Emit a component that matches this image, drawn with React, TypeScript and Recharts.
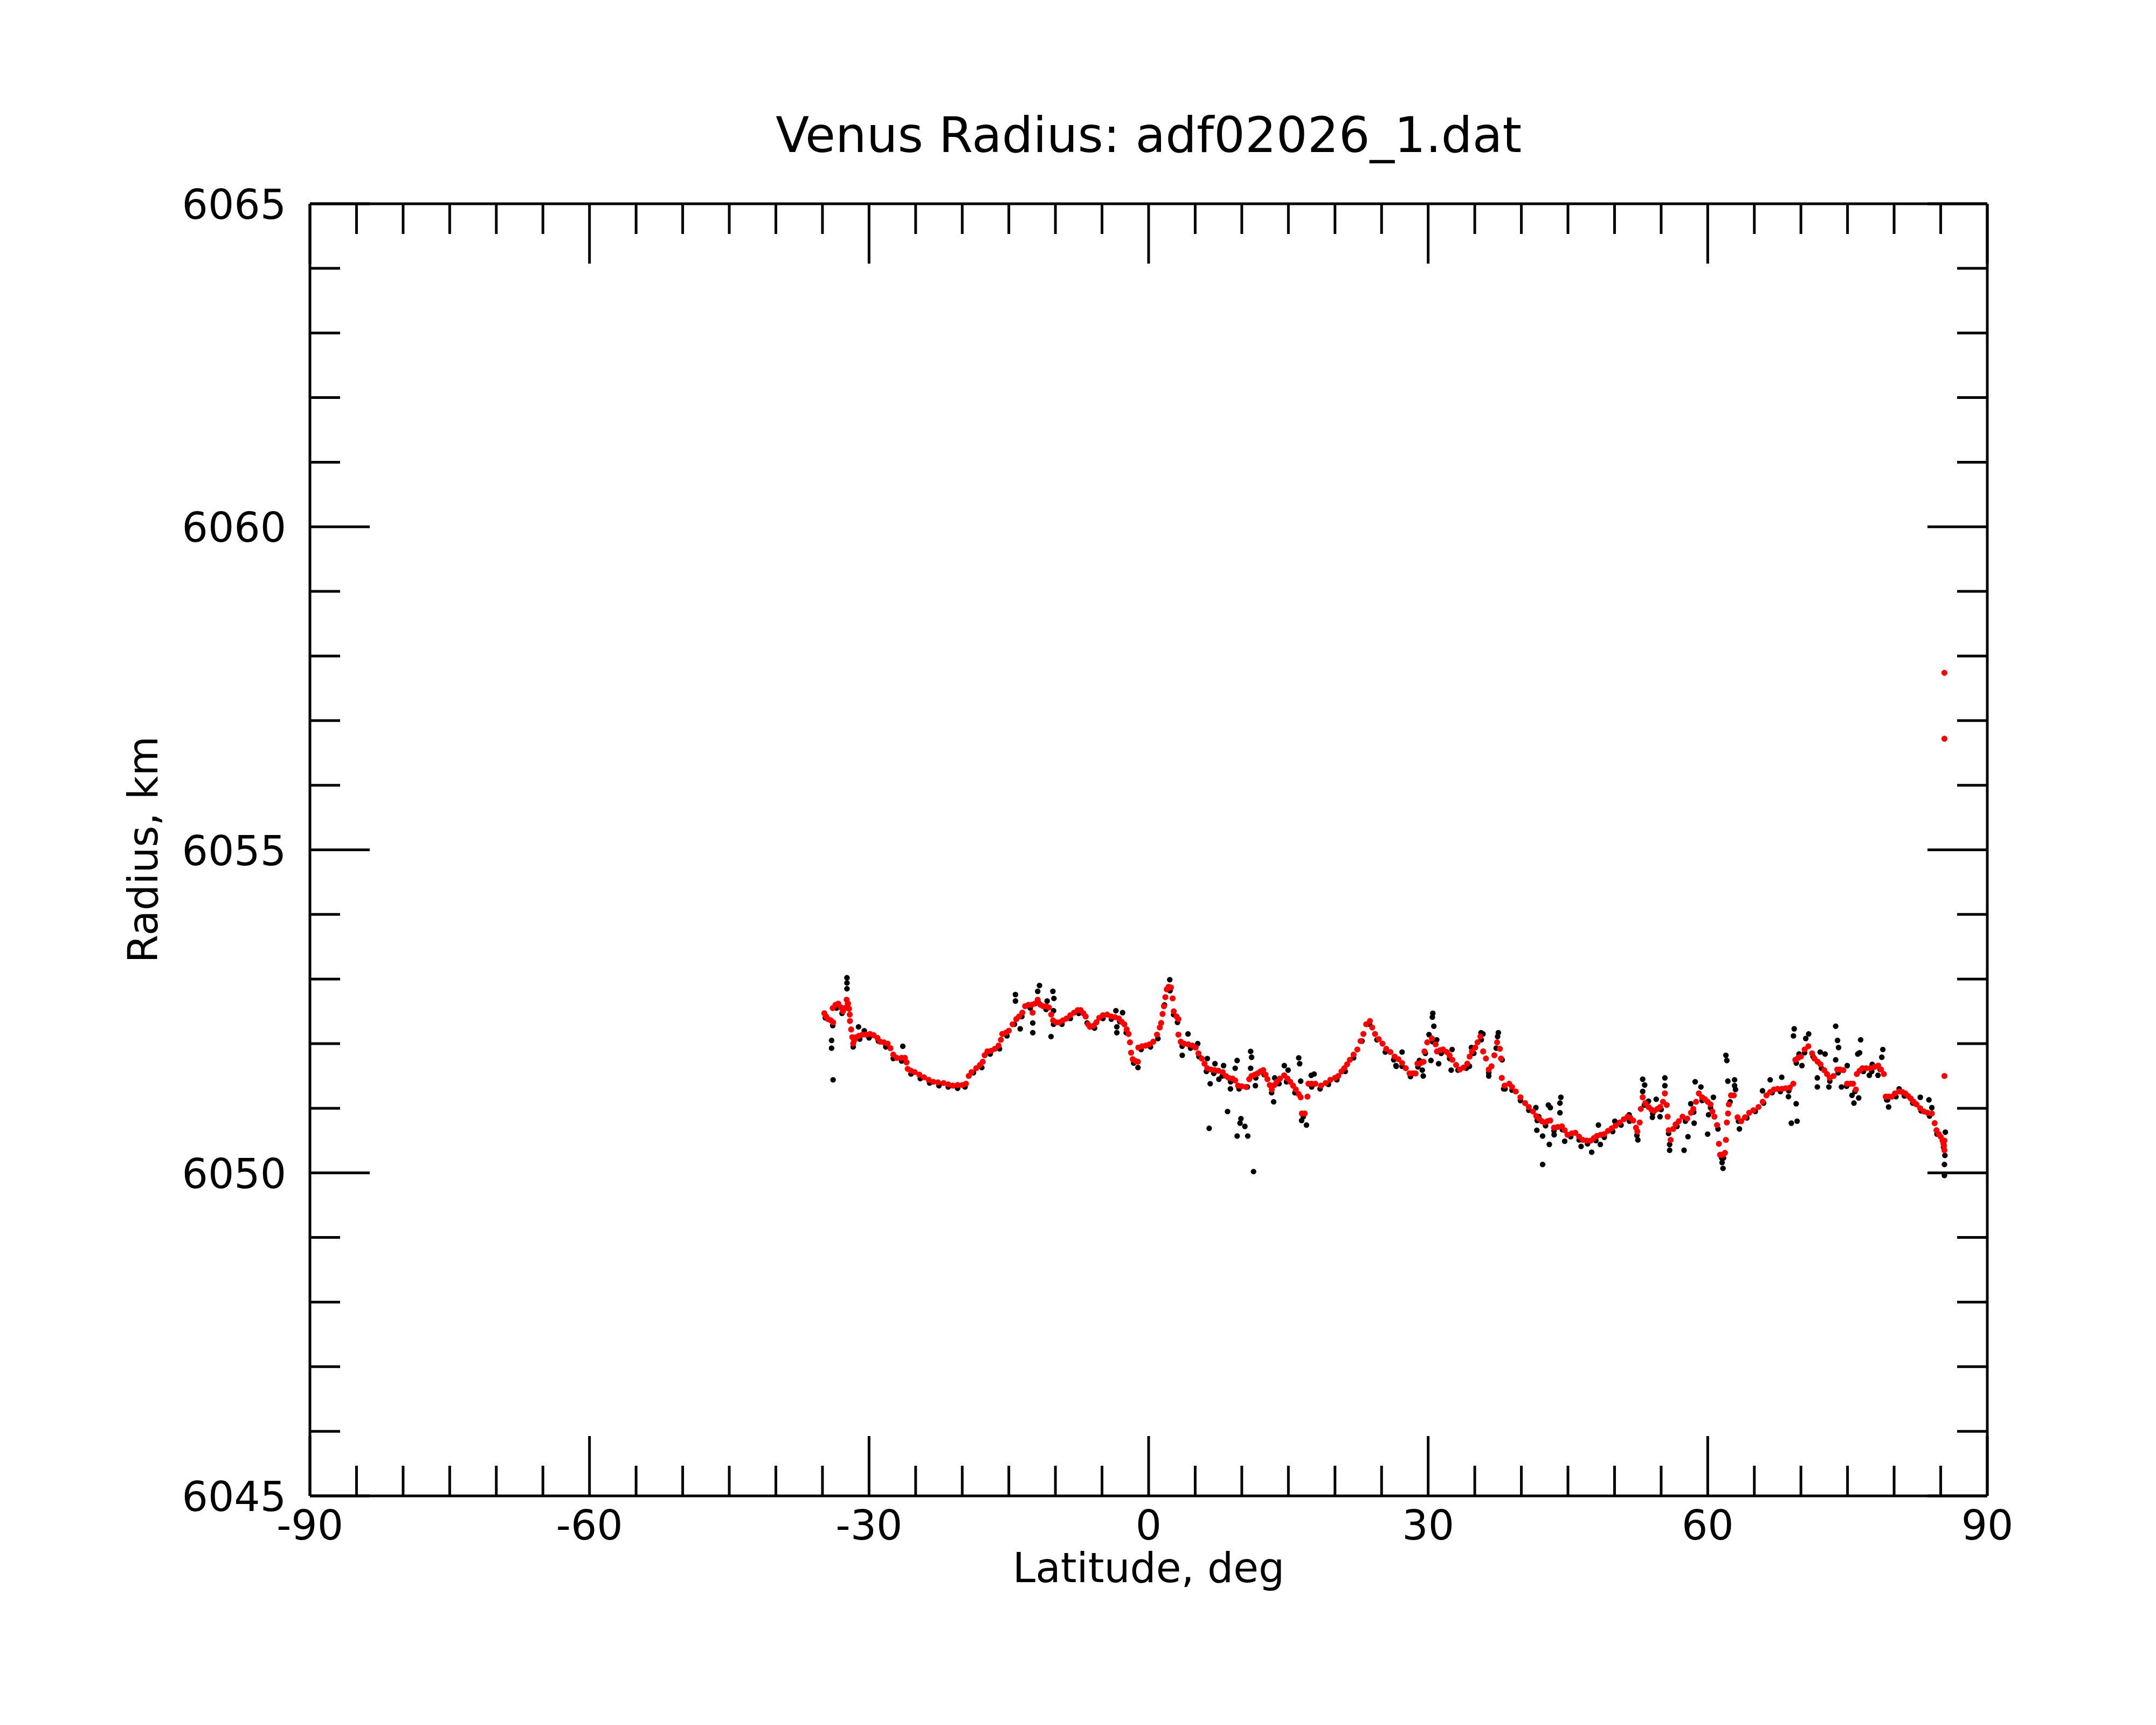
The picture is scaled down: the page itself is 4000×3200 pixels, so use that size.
import { Scatter, ScatterChart, XAxis, YAxis } from "recharts";

// latitude / radius pairs
// raw samples (black)
const rawTrack: [number, number][] = [
  [-34.7, 6052.4], [-33.9, 6052.28], [-33.5, 6052.55], [-32.9, 6052.47], [-32.3, 6052.62],
  [-31.7, 6051.95], [-31.0, 6052.07], [-30.0, 6052.09], [-29.0, 6052.04], [-28.2, 6051.95],
  [-27.4, 6051.77], [-26.5, 6051.73], [-25.5, 6051.53], [-24.5, 6051.46], [-23.5, 6051.39],
  [-22.5, 6051.35], [-21.5, 6051.33], [-20.5, 6051.31], [-19.7, 6051.33], [-18.8, 6051.55],
  [-17.9, 6051.63], [-17.0, 6051.84], [-16.0, 6051.92], [-15.2, 6052.12], [-14.4, 6052.3],
  [-13.6, 6052.42], [-12.7, 6052.55], [-11.8, 6052.63], [-11.0, 6052.53], [-10.2, 6052.3],
  [-9.3, 6052.3], [-8.4, 6052.39], [-7.5, 6052.47], [-6.6, 6052.32], [-5.8, 6052.24],
  [-4.9, 6052.39], [-4.0, 6052.38], [-3.1, 6052.34], [-2.4, 6052.17], [-1.6, 6051.7],
  [-0.8, 6051.91], [0.2, 6051.95], [1.0, 6052.08], [1.7, 6052.6], [2.3, 6052.82],
  [3.1, 6052.33], [3.6, 6051.96], [4.5, 6051.93], [5.4, 6051.8], [6.2, 6051.57],
  [7.0, 6051.54], [7.9, 6051.5], [8.8, 6051.41], [9.7, 6051.3], [10.6, 6051.33],
  [11.5, 6051.47], [12.4, 6051.52], [13.2, 6051.24], [14.0, 6051.38], [14.8, 6051.41],
  [15.7, 6051.24], [16.6, 6050.87], [17.5, 6051.33], [18.4, 6051.3], [19.3, 6051.37],
  [20.2, 6051.44], [21.1, 6051.57], [22.0, 6051.78], [22.9, 6052.04], [23.7, 6052.3],
  [24.5, 6052.06], [25.4, 6051.87], [26.3, 6051.75], [27.2, 6051.65], [28.1, 6051.49],
  [28.9, 6051.64], [29.7, 6051.85], [30.5, 6052.03], [31.4, 6051.85], [32.3, 6051.77],
  [33.2, 6051.59], [34.1, 6051.62], [34.9, 6051.85], [35.7, 6052.06], [36.5, 6051.55],
  [37.3, 6051.93], [38.1, 6051.3], [39.0, 6051.28], [39.9, 6051.12], [40.8, 6050.97],
  [41.7, 6050.81], [42.6, 6050.73], [43.5, 6050.65], [44.4, 6050.67], [45.3, 6050.56],
  [46.2, 6050.51], [47.1, 6050.45], [48.0, 6050.5], [48.9, 6050.55], [49.8, 6050.64],
  [50.7, 6050.74], [51.6, 6050.8], [52.4, 6050.58], [53.2, 6051.05], [54.1, 6050.92],
  [55.0, 6050.98], [55.8, 6050.61], [56.7, 6050.72], [57.6, 6050.8], [58.5, 6050.94],
  [59.4, 6051.12], [60.3, 6051.01], [61.1, 6050.68], [61.7, 6050.23], [62.4, 6051.1],
  [63.3, 6050.8], [64.2, 6050.85], [65.1, 6050.95], [66.0, 6051.08], [66.9, 6051.24],
  [67.8, 6051.26], [68.7, 6051.27], [69.5, 6051.7], [70.4, 6051.86], [71.3, 6051.8],
  [72.2, 6051.62], [73.1, 6051.42], [74.0, 6051.55], [74.9, 6051.34], [75.8, 6051.26],
  [76.7, 6051.57], [77.6, 6051.57], [78.5, 6051.6], [79.3, 6051.13], [80.2, 6051.18],
  [81.1, 6051.19], [82.0, 6051.08], [82.9, 6050.96], [83.8, 6050.88], [84.6, 6050.6],
  [85.3, 6050.4],
];

// raw samples that stray from the track (black)
const rawScatter: [number, number][] = [
  [-34.02, 6052.05], [-34.02, 6051.93], [-33.86, 6051.44], [-32.37, 6053.02], [-32.37, 6052.94],
  [-32.37, 6052.85], [-31.13, 6052.26], [-30.51, 6052.2], [-26.38, 6051.96], [-14.29, 6052.76],
  [-14.29, 6052.66], [-13.78, 6052.23], [-12.43, 6052.32], [-12.43, 6052.17], [-11.71, 6052.9],
  [-11.9, 6052.81], [-10.27, 6052.81], [-10.16, 6052.7], [-10.47, 6052.11], [-10.2, 6052.51],
  [-10.89, 6052.66], [-3.51, 6052.51], [-3.41, 6052.26], [-3.41, 6052.17], [-2.79, 6052.48],
  [-1.14, 6051.63], [2.27, 6052.99], [2.68, 6052.45], [4.23, 6052.15], [3.61, 6051.82],
  [5.27, 6052.0], [6.3, 6051.77], [6.61, 6051.38], [6.5, 6050.69], [7.12, 6051.69],
  [7.54, 6051.45], [8.05, 6051.66], [8.47, 6050.95], [8.78, 6051.3], [9.29, 6051.62],
  [9.5, 6051.74], [9.91, 6050.84], [9.81, 6050.77], [10.33, 6050.72], [9.5, 6050.57],
  [10.64, 6050.57], [10.95, 6051.88], [11.05, 6051.79], [10.95, 6051.62], [11.26, 6050.02],
  [11.46, 6051.35], [13.42, 6051.1], [13.53, 6051.47], [14.56, 6051.66], [14.97, 6051.59],
  [16.11, 6051.78], [16.21, 6051.69], [16.32, 6051.42], [16.42, 6050.81], [16.94, 6050.74],
  [17.45, 6051.51], [17.76, 6051.53], [26.54, 6051.66], [27.2, 6051.87], [26.58, 6051.65],
  [29.06, 6051.74], [29.37, 6051.59], [29.47, 6051.5], [30.09, 6052.14], [30.5, 6052.47],
  [30.45, 6052.41], [30.61, 6052.27], [30.3, 6051.74], [31.12, 6051.69], [30.92, 6052.06],
  [32.57, 6051.91], [32.47, 6051.59], [34.43, 6051.65], [34.64, 6051.94], [35.67, 6052.17],
  [35.88, 6052.15], [36.5, 6051.5], [37.53, 6052.17], [37.45, 6052.11], [37.94, 6051.75],
  [38.25, 6051.3], [41.56, 6051.01], [41.87, 6050.87], [42.9, 6051.05], [43.11, 6051.01],
  [44.24, 6051.17], [44.14, 6051.08], [44.14, 6050.93], [42.28, 6050.13], [43.0, 6050.44],
  [41.66, 6050.66], [42.28, 6050.57], [43.52, 6050.59], [44.65, 6050.49], [46.41, 6050.41],
  [47.55, 6050.32], [48.27, 6050.74], [48.47, 6050.44], [50.03, 6050.8], [51.57, 6050.9],
  [52.5, 6050.51], [53.02, 6051.45], [53.23, 6051.36], [53.02, 6051.26], [53.64, 6051.11],
  [54.06, 6050.86], [54.47, 6051.14], [54.88, 6050.87], [55.4, 6051.47], [55.4, 6051.35],
  [55.91, 6050.44], [55.91, 6050.35], [57.46, 6050.35], [57.88, 6050.56], [58.18, 6051.07],
  [58.54, 6050.77], [58.65, 6051.41], [59.27, 6051.33], [59.99, 6050.6], [60.09, 6050.9],
  [60.61, 6051.17], [61.95, 6051.82], [62.05, 6051.74], [62.16, 6051.42], [62.88, 6051.44],
  [62.88, 6051.35], [62.98, 6051.29], [61.54, 6050.16], [61.64, 6050.07], [61.5, 6050.23],
  [63.4, 6050.68], [65.88, 6051.27], [66.7, 6051.44], [67.94, 6051.48], [68.66, 6051.18],
  [68.97, 6050.77], [69.59, 6050.8], [69.49, 6051.07], [69.28, 6052.23], [69.2, 6052.12],
  [69.8, 6051.84], [70.11, 6051.66], [70.83, 6052.15], [70.52, 6052.08], [71.76, 6051.47],
  [71.76, 6051.33], [72.07, 6051.87], [72.59, 6051.84], [73.0, 6051.33], [73.73, 6052.27],
  [73.93, 6052.05], [74.04, 6051.94], [73.73, 6051.75], [74.35, 6051.33], [74.97, 6051.66],
  [75.48, 6051.2], [75.69, 6051.08], [76.2, 6051.16], [76.41, 6052.06], [76.1, 6051.84],
  [76.3, 6051.86], [77.34, 6051.51], [77.65, 6051.68], [78.27, 6051.51], [78.79, 6051.91],
  [78.68, 6051.79], [79.41, 6051.02], [79.2, 6051.13], [80.54, 6051.3], [82.81, 6051.17],
  [83.74, 6051.13], [84.05, 6051.01], [85.5, 6050.63], [85.45, 6050.27], [85.4, 6050.13],
  [85.4, 6049.96],
];

// smoothed radius (red)
const smoothed: [number, number][] = [
  [-34.8, 6052.47], [-34.6, 6052.42], [-34.4, 6052.38], [-34.1, 6052.36], [-33.85, 6052.33],
  [-33.9, 6052.55], [-33.6, 6052.6], [-33.3, 6052.62], [-33.0, 6052.56], [-32.8, 6052.5],
  [-32.6, 6052.55], [-32.4, 6052.68], [-32.25, 6052.62], [-32.15, 6052.54], [-32.07, 6052.45],
  [-32.05, 6052.35], [-31.92, 6052.22], [-31.8, 6052.1], [-31.7, 6052.0], [-31.6, 6052.05],
  [-31.4, 6052.1], [-31.1, 6052.12], [-30.7, 6052.14], [-30.3, 6052.14], [-29.9, 6052.15],
  [-29.5, 6052.13], [-29.1, 6052.09], [-28.8, 6052.03], [-28.4, 6052.02], [-28.0, 6052.0],
  [-27.7, 6051.93], [-27.4, 6051.83], [-27.0, 6051.78], [-26.5, 6051.78], [-26.15, 6051.78],
  [-25.97, 6051.71], [-25.85, 6051.61], [-25.5, 6051.58], [-25.1, 6051.56], [-24.6, 6051.52],
  [-24.1, 6051.48], [-23.6, 6051.44], [-23.1, 6051.41], [-22.6, 6051.4], [-22.0, 6051.39],
  [-21.5, 6051.37], [-21.0, 6051.35], [-20.5, 6051.36], [-20.0, 6051.36], [-19.6, 6051.38],
  [-19.3, 6051.5], [-19.0, 6051.56], [-18.5, 6051.62], [-18.1, 6051.67], [-17.8, 6051.72],
  [-17.6, 6051.82], [-17.3, 6051.88], [-16.9, 6051.89], [-16.5, 6051.92], [-16.1, 6051.97],
  [-15.85, 6052.06], [-15.7, 6052.15], [-15.3, 6052.17], [-15.0, 6052.2], [-14.6, 6052.3],
  [-14.2, 6052.38], [-13.9, 6052.42], [-13.55, 6052.48], [-13.25, 6052.58], [-12.9, 6052.6],
  [-12.55, 6052.6], [-12.45, 6052.48], [-12.2, 6052.62], [-11.9, 6052.68], [-11.6, 6052.6],
  [-11.3, 6052.58], [-11.0, 6052.58], [-10.7, 6052.56], [-10.45, 6052.45], [-10.25, 6052.36],
  [-9.9, 6052.33], [-9.6, 6052.33], [-9.2, 6052.36], [-8.8, 6052.39], [-8.4, 6052.44],
  [-8.0, 6052.48], [-7.6, 6052.52], [-7.3, 6052.52], [-7.0, 6052.47], [-6.75, 6052.42],
  [-6.5, 6052.3], [-6.3, 6052.26], [-5.9, 6052.28], [-5.6, 6052.33], [-5.3, 6052.4],
  [-4.9, 6052.44], [-4.45, 6052.45], [-4.0, 6052.42], [-3.6, 6052.41], [-3.2, 6052.39],
  [-2.9, 6052.34], [-2.6, 6052.3], [-2.35, 6052.22], [-2.15, 6052.15], [-2.0, 6052.02],
  [-1.88, 6051.86], [-1.7, 6051.76], [-1.4, 6051.73], [-1.15, 6051.72], [-1.1, 6051.94],
  [-0.7, 6051.96], [-0.3, 6051.97], [0.1, 6051.99], [0.5, 6052.03], [0.9, 6052.14],
  [1.2, 6052.25], [1.35, 6052.32], [1.5, 6052.46], [1.65, 6052.58], [1.8, 6052.72],
  [1.95, 6052.84], [2.15, 6052.88], [2.4, 6052.87], [2.58, 6052.7], [2.7, 6052.5],
  [3.0, 6052.42], [3.2, 6052.38], [3.2, 6052.14], [3.45, 6052.03], [3.8, 6052.0],
  [4.25, 6051.99], [4.7, 6051.97], [5.05, 6051.94], [5.35, 6051.85], [5.7, 6051.77],
  [6.0, 6051.69], [6.3, 6051.62], [6.7, 6051.6], [7.1, 6051.59], [7.5, 6051.58],
  [7.95, 6051.56], [8.3, 6051.5], [8.6, 6051.47], [9.0, 6051.46], [9.3, 6051.43],
  [9.6, 6051.35], [10.0, 6051.34], [10.45, 6051.33], [10.8, 6051.45], [11.05, 6051.5],
  [11.4, 6051.52], [11.7, 6051.54], [12.0, 6051.57], [12.3, 6051.59], [12.55, 6051.52],
  [12.75, 6051.45], [13.0, 6051.36], [13.22, 6051.29], [13.5, 6051.36], [13.75, 6051.41],
  [14.1, 6051.46], [14.55, 6051.51], [14.9, 6051.46], [15.2, 6051.41], [15.5, 6051.35],
  [15.8, 6051.29], [16.1, 6051.22], [16.32, 6051.17], [16.45, 6050.92], [16.75, 6050.92],
  [17.05, 6051.18], [17.15, 6051.38], [17.5, 6051.38], [17.9, 6051.38], [18.5, 6051.35],
  [19.0, 6051.39], [19.5, 6051.44], [20.0, 6051.47], [20.35, 6051.5], [20.7, 6051.57],
  [21.0, 6051.62], [21.3, 6051.68], [21.6, 6051.75], [22.0, 6051.83], [22.4, 6051.91],
  [22.75, 6052.04], [23.05, 6052.15], [23.35, 6052.3], [23.75, 6052.35], [24.0, 6052.25],
  [24.3, 6052.15], [24.7, 6052.07], [25.1, 6052.0], [25.5, 6051.92], [25.95, 6051.87],
  [26.4, 6051.8], [26.8, 6051.76], [27.2, 6051.7], [27.6, 6051.62], [28.0, 6051.54],
  [28.35, 6051.54], [28.65, 6051.54], [28.85, 6051.69], [29.2, 6051.7], [29.5, 6051.72],
  [29.6, 6051.88], [29.9, 6052.02], [30.4, 6052.08], [30.8, 6051.99], [30.95, 6051.88],
  [31.3, 6051.9], [31.6, 6051.91], [32.0, 6051.87], [32.3, 6051.82], [32.6, 6051.75],
  [33.0, 6051.67], [33.4, 6051.6], [33.8, 6051.63], [34.2, 6051.69], [34.45, 6051.8],
  [34.7, 6051.88], [35.05, 6051.94], [35.3, 6052.02], [35.6, 6052.11], [35.9, 6051.88],
  [36.2, 6051.77], [36.5, 6051.6], [36.8, 6051.65], [37.1, 6051.82], [37.4, 6052.02],
  [37.7, 6051.92], [37.82, 6051.77], [37.9, 6051.47], [38.2, 6051.35], [38.7, 6051.38],
  [39.0, 6051.33], [39.4, 6051.26], [39.9, 6051.17], [40.4, 6051.08], [40.8, 6051.02],
  [41.25, 6050.95], [41.6, 6050.88], [41.9, 6050.84], [42.2, 6050.8], [42.5, 6050.78],
  [42.8, 6050.8], [43.1, 6050.81], [43.5, 6050.7], [43.9, 6050.71], [44.35, 6050.72],
  [44.65, 6050.66], [44.95, 6050.59], [45.4, 6050.61], [45.8, 6050.62], [46.2, 6050.56],
  [46.6, 6050.51], [47.0, 6050.5], [47.45, 6050.5], [47.8, 6050.54], [48.1, 6050.57],
  [48.5, 6050.59], [48.9, 6050.6], [49.3, 6050.65], [49.7, 6050.69], [50.1, 6050.73],
  [50.55, 6050.78], [51.0, 6050.83], [51.4, 6050.87], [51.7, 6050.85], [52.0, 6050.81],
  [52.3, 6050.7], [52.45, 6050.64], [52.7, 6050.78], [52.82, 6050.99], [53.02, 6051.17],
  [53.3, 6051.08], [53.65, 6051.02], [53.95, 6050.98], [54.25, 6050.96], [54.6, 6050.99],
  [54.9, 6051.02], [55.2, 6051.1], [55.4, 6051.23], [55.6, 6051.05], [55.7, 6050.87],
  [55.82, 6050.66], [56.02, 6050.51], [56.3, 6050.68], [56.55, 6050.75], [56.9, 6050.8],
  [57.3, 6050.87], [57.8, 6050.84], [58.2, 6050.93], [58.45, 6050.99], [58.75, 6051.1],
  [59.05, 6051.23], [59.4, 6051.17], [59.7, 6051.14], [60.0, 6051.1], [60.3, 6051.06],
  [60.5, 6050.95], [60.72, 6050.87], [61.0, 6050.74], [61.2, 6050.45], [61.33, 6050.28],
  [61.6, 6050.28], [61.85, 6050.31], [61.95, 6050.51], [62.05, 6050.78], [62.18, 6050.92],
  [62.27, 6051.06], [62.5, 6051.2], [62.8, 6051.2], [63.2, 6050.86], [63.6, 6050.8],
  [64.0, 6050.86], [64.45, 6050.93], [64.9, 6050.97], [65.45, 6051.02], [65.9, 6051.1],
  [66.3, 6051.2], [66.7, 6051.25], [67.1, 6051.29], [67.5, 6051.3], [67.95, 6051.3],
  [68.35, 6051.31], [68.8, 6051.32], [69.18, 6051.38], [69.4, 6051.75], [69.7, 6051.78],
  [70.0, 6051.8], [70.4, 6051.91], [70.8, 6051.96], [71.2, 6051.85], [71.45, 6051.77],
  [71.8, 6051.72], [72.1, 6051.68], [72.5, 6051.59], [72.8, 6051.53], [73.1, 6051.47],
  [73.5, 6051.5], [73.9, 6051.6], [74.2, 6051.6], [74.55, 6051.59], [74.95, 6051.38],
  [75.3, 6051.38], [75.6, 6051.38], [75.9, 6051.29], [76.0, 6051.53], [76.3, 6051.58],
  [76.6, 6051.62], [77.0, 6051.62], [77.45, 6051.62], [77.9, 6051.64], [78.3, 6051.66],
  [78.6, 6051.6], [78.9, 6051.53], [79.1, 6051.18], [79.4, 6051.18], [79.75, 6051.18],
  [80.1, 6051.23], [80.55, 6051.26], [80.9, 6051.25], [81.2, 6051.23], [81.5, 6051.19],
  [81.8, 6051.15], [82.1, 6051.1], [82.4, 6051.06], [82.8, 6051.0], [83.2, 6050.95],
  [83.6, 6050.93], [84.05, 6050.92], [84.35, 6050.77], [84.55, 6050.66], [84.8, 6050.6],
  [85.0, 6050.56], [85.2, 6050.5], [85.3, 6050.45], [85.35, 6050.42], [85.4, 6050.5],
  [85.4, 6050.35], [85.4, 6051.5], [85.4, 6056.72], [85.4, 6057.74],
];

const latTicks = [
  -90, -85, -80, -75, -70, -65, -60, -55, -50, -45, -40, -35, -30, -25, -20, -15, -10, -5, 0,
  5, 10, 15, 20, 25, 30, 35, 40, 45, 50, 55, 60, 65, 70, 75, 80, 85, 90,
];
const latLabels = [-90, -60, -30, 0, 30, 60, 90];
const radiusTicks = [
  6045, 6046, 6047, 6048, 6049, 6050, 6051, 6052, 6053, 6054, 6055, 6056, 6057, 6058, 6059,
  6060, 6061, 6062, 6063, 6064, 6065,
];
const radiusLabels = [6045, 6050, 6055, 6060, 6065];

const toPoints = (rows: [number, number][]) => rows.map(([lat, r]) => ({ lat, r }));

const FONT = "DejaVu Sans, sans-serif";
const LABEL_SIZE = 76;
const MAJOR = 111;
const MINOR = 56;
const STROKE = 5;

function BottomTick({ x, y, payload }: any) {
  const major = latLabels.includes(payload.value);
  return (
    <g>
      <line x1={x} x2={x} y1={y} y2={y - (major ? MAJOR : MINOR)} stroke="#000" strokeWidth={STROKE} />
      {major && (
        <text x={x} y={y + 81} textAnchor="middle" fontSize={LABEL_SIZE} fontFamily={FONT} fill="#000">
          {payload.value}
        </text>
      )}
    </g>
  );
}

function TopTick({ x, y, payload }: any) {
  const major = latLabels.includes(payload.value);
  return <line x1={x} x2={x} y1={y} y2={y + (major ? MAJOR : MINOR)} stroke="#000" strokeWidth={STROKE} />;
}

function LeftTick({ x, y, payload }: any) {
  const major = radiusLabels.includes(payload.value);
  return (
    <g>
      <line x1={x} x2={x + (major ? MAJOR : MINOR)} y1={y} y2={y} stroke="#000" strokeWidth={STROKE} />
      {major && (
        <text x={x - 44} y={y + 28} textAnchor="end" fontSize={LABEL_SIZE} fontFamily={FONT} fill="#000">
          {payload.value}
        </text>
      )}
    </g>
  );
}

function RightTick({ x, y, payload }: any) {
  const major = radiusLabels.includes(payload.value);
  return <line x1={x} x2={x - (major ? MAJOR : MINOR)} y1={y} y2={y} stroke="#000" strokeWidth={STROKE} />;
}

const BlackDot = (p: any) => <circle cx={p.cx} cy={p.cy} r={5.2} fill="#000000" />;
const RedDot = (p: any) => <circle cx={p.cx} cy={p.cy} r={5.6} fill="#ff0000" />;

const W = 3992;
const H = 3192;
const axisLine = { stroke: "#000", strokeWidth: STROKE };

export default function App() {
  return (
    <div style={{ position: "relative", width: W, height: H, background: "#fff" }}>
      <ScatterChart width={W} height={H} margin={{ top: 360, right: 303, bottom: 325, left: 367 }}>
        <XAxis
          xAxisId="bottom"
          type="number"
          dataKey="lat"
          domain={[-90, 90]}
          ticks={latTicks}
          interval={0}
          height={100}
          tickSize={0}
          tickMargin={0}
          tickLine={false}
          axisLine={axisLine}
          tick={<BottomTick />}
          allowDataOverflow
        />
        <XAxis
          xAxisId="top"
          orientation="top"
          type="number"
          dataKey="lat"
          domain={[-90, 90]}
          ticks={latTicks}
          interval={0}
          height={10}
          tickSize={0}
          tickMargin={0}
          tickLine={false}
          axisLine={axisLine}
          tick={<TopTick />}
          allowDataOverflow
        />
        <YAxis
          yAxisId="left"
          type="number"
          dataKey="r"
          domain={[6045, 6065]}
          ticks={radiusTicks}
          interval={0}
          width={200}
          tickSize={0}
          tickMargin={0}
          tickLine={false}
          axisLine={axisLine}
          tick={<LeftTick />}
          allowDataOverflow
        />
        <YAxis
          yAxisId="right"
          orientation="right"
          type="number"
          dataKey="r"
          domain={[6045, 6065]}
          ticks={radiusTicks}
          interval={0}
          width={10}
          tickSize={0}
          tickMargin={0}
          tickLine={false}
          axisLine={axisLine}
          tick={<RightTick />}
          allowDataOverflow
        />
        <Scatter
          xAxisId="bottom"
          yAxisId="left"
          data={toPoints(rawTrack)}
          shape={BlackDot}
          isAnimationActive={false}
        />
        <Scatter
          xAxisId="bottom"
          yAxisId="left"
          data={toPoints(rawScatter)}
          shape={BlackDot}
          isAnimationActive={false}
        />
        <Scatter
          xAxisId="bottom"
          yAxisId="left"
          data={toPoints(smoothed)}
          shape={RedDot}
          isAnimationActive={false}
        />
        <Scatter
          xAxisId="top"
          yAxisId="right"
          data={toPoints(smoothed)}
          shape={() => null}
          isAnimationActive={false}
        />
      </ScatterChart>
      <svg
        width={W}
        height={H}
        style={{ position: "absolute", left: 0, top: 0, pointerEvents: "none" }}
      >
        <text x={2123} y={274} textAnchor="middle" fontSize={91} fontFamily={FONT} fill="#000">
          Venus Radius: adf02026_1.dat
        </text>
        <text x={2123} y={2927} textAnchor="middle" fontSize={LABEL_SIZE} fontFamily={FONT} fill="#000">
          Latitude, deg
        </text>
        <text
          x={284}
          y={1568}
          textAnchor="middle"
          fontSize={LABEL_SIZE}
          fontFamily={FONT}
          fill="#000"
          transform="rotate(-90 284 1568)"
        >
          Radius, km
        </text>
      </svg>
    </div>
  );
}
